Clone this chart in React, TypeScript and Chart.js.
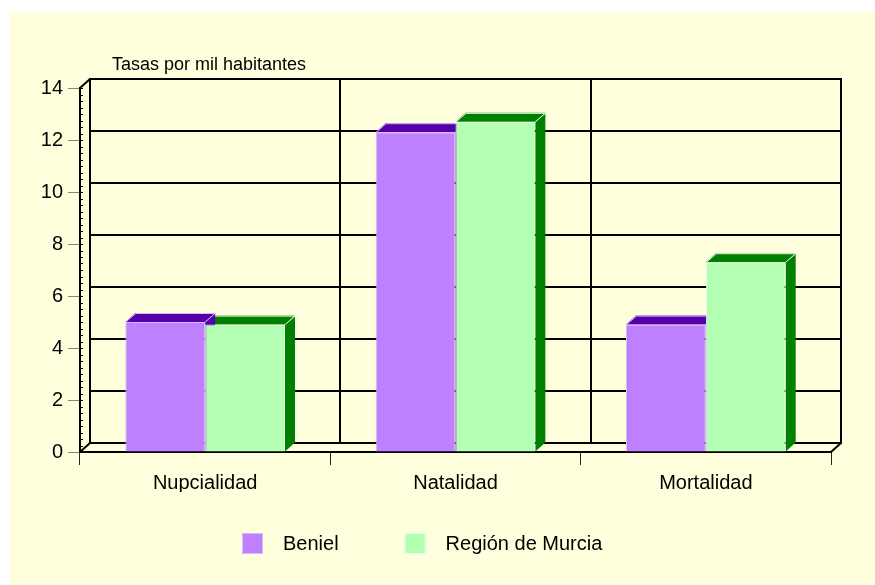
import React, { useEffect, useRef } from 'react';
import { Chart, registerables } from 'chart.js';

Chart.register(...registerables);

const categories = ['Nupcialidad', 'Natalidad', 'Mortalidad'];
const seriesNames = ['Beniel', 'Región de Murcia'];
const benielValues = [5.0, 12.3, 4.9];
const murciaValues = [4.9, 12.7, 7.3];
const yTicks = [0, 2, 4, 6, 8, 10, 12, 14];
const axisTitle = 'Tasas por mil habitantes';

const FRONT = ['#BF80FF', '#B3FFB3'];
const DARK = ['#5500AA', '#008000'];
const EDGE = ['#D8B8FF', '#E6FFE6'];
const DX = 10;
const DY = 9;
const FONT = '"Liberation Sans", Arial, sans-serif';

const line = (ctx: CanvasRenderingContext2D, x1: number, y1: number, x2: number, y2: number) => {
  ctx.beginPath();
  ctx.moveTo(x1, y1);
  ctx.lineTo(x2, y2);
  ctx.stroke();
};

const threeD = {
  id: 'threeD',
  beforeDatasetsDraw(chart: any) {
    const { ctx, chartArea: a, scales } = chart;
    const ys = scales.y;
    const xs = scales.x;
    ctx.save();
    ctx.strokeStyle = '#000';
    ctx.lineWidth = 2;
    // back wall horizontal lines
    yTicks.forEach((v) => {
      const py = Math.round(ys.getPixelForValue(v)) - DY;
      line(ctx, a.left + DX, py, a.right + DX, py);
    });
    const topB = Math.round(ys.getPixelForValue(yTicks[yTicks.length - 1])) - DY;
    const botB = Math.round(ys.getPixelForValue(0)) - DY;
    // back wall left edge
    line(ctx, a.left + DX, topB - 1, a.left + DX, botB + 1);
    // category boundaries on back wall
    for (let i = 0; i < categories.length; i++) {
      const px = Math.round(xs.getPixelForValue(i + 0.5)) + DX;
      line(ctx, px, topB - 1, px, botB + 1);
    }
    // diagonal connectors
    const fTop = Math.round(ys.getPixelForValue(yTicks[yTicks.length - 1]));
    const fBot = Math.round(ys.getPixelForValue(0));
    line(ctx, a.left, fTop, a.left + DX, topB);
    line(ctx, a.left, fBot, a.left + DX, botB);
    line(ctx, a.right, fBot, a.right + DX, botB);
    // minor ticks on front y axis
    ctx.fillStyle = '#000';
    for (let v = 0; v <= 14; v += 0.25) {
      const py = Math.round(ys.getPixelForValue(v));
      ctx.fillRect(a.left + 1, py, 2, 1);
    }
    // 3D faces of bars (draw right-hand series first)
    for (let di = chart.data.datasets.length - 1; di >= 0; di--) {
      const meta = chart.getDatasetMeta(di);
      meta.data.forEach((bar: any) => {
        const { x, y, base, width } = bar.getProps(['x', 'y', 'base', 'width'], true);
        const l = x - width / 2;
        const r = x + width / 2;
        ctx.fillStyle = DARK[di];
        // side
        ctx.beginPath();
        ctx.moveTo(r, y);
        ctx.lineTo(r + DX, y - DY);
        ctx.lineTo(r + DX, base - DY);
        ctx.lineTo(r, base);
        ctx.closePath();
        ctx.fill();
        // top
        ctx.beginPath();
        ctx.moveTo(l, y);
        ctx.lineTo(l + DX, y - DY);
        ctx.lineTo(r + DX, y - DY);
        ctx.lineTo(r, y);
        ctx.closePath();
        ctx.fill();
        ctx.strokeStyle = EDGE[di];
        ctx.lineWidth = 1;
        ctx.beginPath();
        ctx.moveTo(l + 0.5, y);
        ctx.lineTo(l + DX + 0.5, y - DY + 0.5);
        ctx.lineTo(r + DX, y - DY + 0.5);
        ctx.lineTo(r, y);
        ctx.stroke();
      });
    }
    ctx.restore();
  },
  afterDraw(chart: any) {
    const { ctx } = chart;
    ctx.save();
    ctx.fillStyle = '#000';
    ctx.font = `18px ${FONT}`;
    ctx.textBaseline = 'alphabetic';
    ctx.textAlign = 'left';
    ctx.fillText(axisTitle, 102, 58);
    // legend
    ctx.font = `20px ${FONT}`;
    ctx.textBaseline = 'middle';
    let bx = 232;
    const by = 521;
    chart.data.datasets.forEach((ds: any, i: number) => {
      ctx.fillStyle = FRONT[i];
      ctx.fillRect(bx, by, 21, 21);
      ctx.strokeStyle = EDGE[i];
      ctx.lineWidth = 1;
      ctx.strokeRect(bx + 0.5, by + 0.5, 20, 20);
      ctx.fillStyle = '#000';
      const tx = bx + 41;
      ctx.fillText(ds.label, tx, by + 11);
      bx = tx + ctx.measureText(ds.label).width + 66;
    });
    ctx.restore();
  },
};

export default function App() {
  const ref = useRef<HTMLCanvasElement>(null);
  useEffect(() => {
    if (!ref.current) return;
    const chart = new Chart(ref.current, {
      type: 'bar',
      data: {
        labels: categories,
        datasets: [
          {
            label: seriesNames[0],
            data: benielValues,
            backgroundColor: FRONT[0],
            borderColor: EDGE[0],
            borderWidth: 1,
            categoryPercentage: 0.638,
            barPercentage: 1.0,
          },
          {
            label: seriesNames[1],
            data: murciaValues,
            backgroundColor: FRONT[1],
            borderColor: EDGE[1],
            borderWidth: 1,
            categoryPercentage: 0.638,
            barPercentage: 1.0,
          },
        ],
      },
      options: {
        responsive: false,
        animation: false,
        layout: { padding: { left: 10, top: 76, right: 44, bottom: 93 } },
        plugins: {
          legend: { display: false },
          tooltip: { enabled: false },
          title: { display: false },
        },
        scales: {
          x: {
            offset: true,
            grid: { offset: true, drawOnChartArea: false, drawTicks: true, tickLength: 13, color: '#222', lineWidth: 1 },
            border: { display: true, color: '#000', width: 2 },
            ticks: { color: '#000', font: { size: 20, family: FONT }, padding: 6 },
            afterFit: (s: any) => {
              s.height = 40;
            },
          },
          y: {
            min: 0,
            max: 14,
            ticks: { stepSize: 2, color: '#000', font: { size: 20, family: FONT }, padding: 5 },
            grid: { drawOnChartArea: false, drawTicks: true, tickLength: 12, color: '#808080', lineWidth: 1 },
            border: { display: true, color: '#000', width: 2 },
            afterFit: (s: any) => {
              s.width = 60;
            },
          },
        },
      },
      plugins: [threeD],
    } as any);
    return () => chart.destroy();
  }, []);
  return (
    <div style={{ position: 'fixed', left: 0, top: 0, width: 875, height: 585, background: '#fff' }}>
      <canvas
        ref={ref}
        width={865}
        height={573}
        style={{ position: 'absolute', left: 10, top: 12, width: 865, height: 573, background: '#FFFFDD', display: 'block' }}
      />
    </div>
  );
}
